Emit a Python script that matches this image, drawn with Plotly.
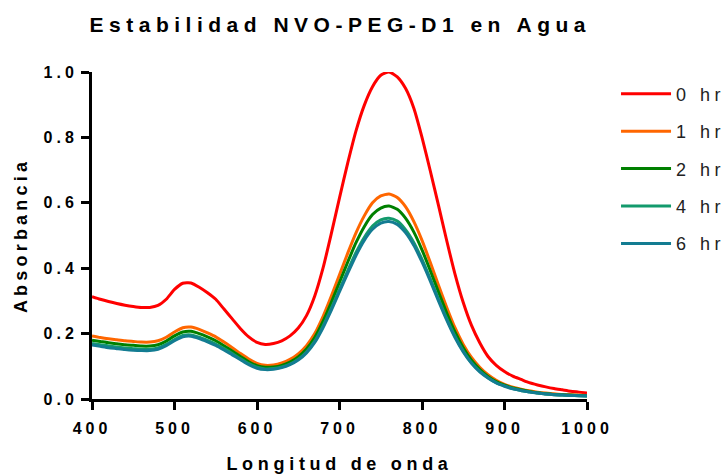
import plotly.graph_objects as go

# Wavelength grid (nm)
wavelength = list(range(400, 1001, 10))

# Absorbance spectra at each time point
abs_0hr = [
    0.313, 0.305, 0.298, 0.292, 0.287, 0.283, 0.280, 0.280, 0.286, 0.305,
    0.335, 0.354, 0.355, 0.342, 0.325, 0.305, 0.275, 0.245, 0.215, 0.190,
    0.173, 0.167, 0.170, 0.178, 0.193, 0.217, 0.255, 0.315, 0.400, 0.505,
    0.615, 0.722, 0.820, 0.898, 0.955, 0.990, 1.000, 0.985, 0.950, 0.890,
    0.800, 0.698, 0.592, 0.484, 0.382, 0.295, 0.225, 0.172, 0.130, 0.103,
    0.084, 0.070, 0.060, 0.050, 0.043, 0.037, 0.032, 0.028, 0.024, 0.021,
    0.018,
]
abs_1hr = [
    0.193, 0.188, 0.184, 0.181, 0.178, 0.176, 0.174, 0.174, 0.178, 0.189,
    0.205, 0.218, 0.220, 0.213, 0.202, 0.190, 0.174, 0.157, 0.139, 0.122,
    0.109, 0.103, 0.104, 0.110, 0.121, 0.138, 0.163, 0.200, 0.252, 0.314,
    0.380, 0.446, 0.508, 0.560, 0.600, 0.621, 0.627, 0.616, 0.588, 0.543,
    0.485, 0.418, 0.348, 0.280, 0.218, 0.167, 0.127, 0.097, 0.074, 0.057,
    0.045, 0.036, 0.030, 0.025, 0.021, 0.018, 0.016, 0.014, 0.013, 0.012,
    0.011,
]
abs_2hr = [
    0.180, 0.176, 0.172, 0.169, 0.166, 0.164, 0.162, 0.162, 0.166, 0.177,
    0.193, 0.205, 0.207, 0.200, 0.190, 0.178, 0.163, 0.147, 0.130, 0.114,
    0.102, 0.097, 0.098, 0.103, 0.113, 0.129, 0.153, 0.188, 0.237, 0.295,
    0.357, 0.419, 0.478, 0.527, 0.564, 0.584, 0.590, 0.580, 0.553, 0.511,
    0.456, 0.393, 0.327, 0.263, 0.205, 0.157, 0.119, 0.091, 0.069, 0.053,
    0.042, 0.034, 0.028, 0.023, 0.019, 0.016, 0.014, 0.013, 0.012, 0.011,
    0.010,
]
abs_4hr = [
    0.170, 0.166, 0.162, 0.159, 0.156, 0.154, 0.152, 0.152, 0.156, 0.167,
    0.182, 0.194, 0.196, 0.189, 0.179, 0.168, 0.154, 0.139, 0.123, 0.108,
    0.097, 0.092, 0.093, 0.098, 0.107, 0.122, 0.144, 0.177, 0.223, 0.277,
    0.335, 0.393, 0.448, 0.494, 0.529, 0.548, 0.553, 0.544, 0.518, 0.479,
    0.427, 0.368, 0.306, 0.246, 0.192, 0.147, 0.111, 0.085, 0.065, 0.050,
    0.040, 0.032, 0.026, 0.022, 0.018, 0.015, 0.013, 0.012, 0.011, 0.010,
    0.009,
]
abs_6hr = [
    0.165, 0.161, 0.157, 0.154, 0.151, 0.149, 0.148, 0.148, 0.152, 0.163,
    0.178, 0.190, 0.192, 0.185, 0.175, 0.164, 0.150, 0.135, 0.120, 0.105,
    0.094, 0.090, 0.091, 0.096, 0.105, 0.119, 0.141, 0.173, 0.218, 0.271,
    0.328, 0.385, 0.439, 0.485, 0.519, 0.538, 0.543, 0.534, 0.509, 0.470,
    0.419, 0.361, 0.300, 0.241, 0.188, 0.144, 0.109, 0.083, 0.064, 0.049,
    0.039, 0.031, 0.026, 0.021, 0.018, 0.015, 0.013, 0.012, 0.011, 0.010,
    0.009,
]

series_names = ["0 hr", "1 hr", "2 hr", "4 hr", "6 hr"]
series_values = [abs_0hr, abs_1hr, abs_2hr, abs_4hr, abs_6hr]
series_colors = ["#FF0000", "#FF6600", "#008000", "#139A6C", "#137C92"]

x_ticks = [400, 500, 600, 700, 800, 900, 1000]
y_ticks = [0.0, 0.2, 0.4, 0.6, 0.8, 1.0]

FONT = "Liberation Sans, Arial, Helvetica, sans-serif"

fig = go.Figure()
for name, vals, color in zip(series_names, series_values, series_colors):
    fig.add_trace(go.Scatter(
        x=wavelength, y=vals, mode="lines", name=name, legendgroup=name,
        line=dict(color=color, width=3, shape="spline", smoothing=0.6),
    ))

axis_common = dict(
    showline=True, linecolor="black", linewidth=3,
    ticks="outside", ticklen=8, tickwidth=3, tickcolor="black",
    showgrid=False, zeroline=False, automargin=False,
    tickfont=dict(family=FONT, size=16, color="black", weight="bold"),
)

fig.update_layout(
    width=724, height=475,
    margin=dict(l=92, r=136, t=72, b=76),
    paper_bgcolor="white", plot_bgcolor="white",
    title=dict(
        text="Estabilidad NVO-PEG-D1 en Agua",
        x=0.47, xanchor="center", y=1 - 25 / 475, yanchor="middle",
        font=dict(family=FONT, size=21, color="black", weight="bold"),
    ),
    xaxis=dict(
        range=[400, 1000], tickvals=x_ticks, ticklabelstandoff=5,
        title=dict(text="Longitud de onda", standoff=22,
                   font=dict(family=FONT, size=18, color="black", weight="bold")),
        **axis_common,
    ),
    yaxis=dict(
        range=[0, 1.0], tickvals=y_ticks, tickformat=".1f",
        title=dict(text="Absorbancia", standoff=24,
                   font=dict(family=FONT, size=18, color="black", weight="bold")),
        **axis_common,
    ),
    legend=dict(
        x=1.0565, xanchor="left", y=0.989, yanchor="top",
        font=dict(family=FONT, size=18, color="#222222"),
        itemwidth=50,
        tracegroupgap=11, bgcolor="rgba(0,0,0,0)",
    ),
    showlegend=True,
)

# Widen character spacing of the text labels
spacing_js = """
var gd = document.getElementById('{plot_id}');
function spread(sel, px) {
  gd.querySelectorAll(sel).forEach(function (el) { el.style.letterSpacing = px + 'px'; });
}
spread('.gtitle', 5.5);
spread('.xtitle', 4.7);
spread('.ytitle', 4.2);
spread('.xtick text', 4);
spread('.ytick text', 4);
spread('.legendtext', 4.5);
gd.querySelectorAll('.legend [clip-path]').forEach(function (el) { el.removeAttribute('clip-path'); });
"""

fig.write_html("out.html", post_script=spacing_js)
